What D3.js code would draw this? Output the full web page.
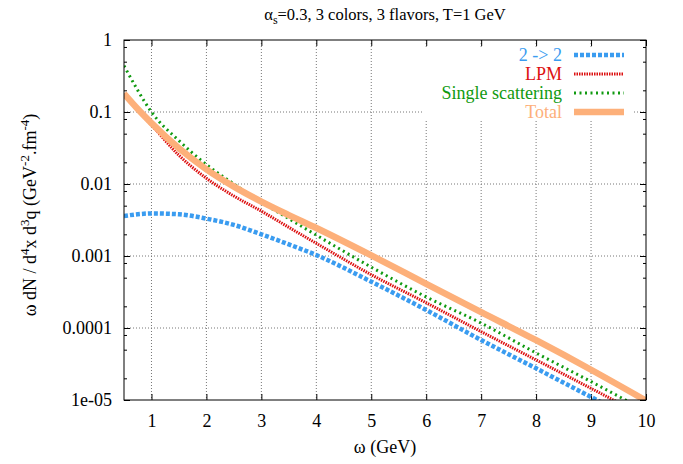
<!DOCTYPE html>
<html>
<head>
<meta charset="utf-8">
<script src="https://d3js.org/d3.v7.min.js"></script>
<style>
  body { margin: 0; background: #fff; }
</style>
</head>
<body>
<div id="my_dataviz"></div>
<script>
// data
var omega      = [0.5, 0.75, 1, 1.5, 2, 2.5, 3, 3.5, 4, 5, 6, 7, 8, 9, 10];
var twoToTwo   = [0.0036, 0.0038, 0.0039, 0.0038, 0.0033, 0.0027, 0.0020, 0.00145, 0.00103, 0.00044, 0.000178, 0.000068, 0.0000275, 0.0000110, 0.0000044];
var lpm        = [0.176, 0.106, 0.066, 0.025, 0.012, 0.0068, 0.0042, 0.0025, 0.0015, 0.00055, 0.000224, 0.000089, 0.000036, 0.0000145, 0.0000058];
var single     = [0.44, 0.2, 0.1, 0.040, 0.0186, 0.0100, 0.0056, 0.0033, 0.00195, 0.0007, 0.00027, 0.000117, 0.000045, 0.000018, 0.000007];
var total      = [0.18, 0.11, 0.07, 0.0313, 0.016, 0.0092, 0.0057, 0.0037, 0.00245, 0.00102, 0.00041, 0.000166, 0.0000676, 0.0000263, 0.0000098];
var xTicks     = [1, 2, 3, 4, 5, 6, 7, 8, 9, 10];
var yTicks     = [1, 0.1, 0.01, 0.001, 0.0001, 0.00001];
var yTickLabels = ["1", "0.1", "0.01", "0.001", "0.0001", "1e-05"];

var series = [
  {name: "2 -> 2", values: twoToTwo, color: "#3a9cf0", width: 4.5, dash: "4,2"},
  {name: "LPM", values: lpm, color: "#dd1111", width: 3, dash: "1.5,1"},
  {name: "Single scattering", values: single, color: "#109a10", width: 3, dash: "2,3.5"},
  {name: "Total", values: total, color: "#fdb07a", width: 6.5, dash: null}
];

var FONT = "'Liberation Serif', 'Times New Roman', Times, 'DejaVu Serif', serif";

// dimensions of the graph
var W = 683, H = 464;
var margin = {top: 40, right: 37, bottom: 64, left: 124},
    width = W - margin.left - margin.right,
    height = H - margin.top - margin.bottom;

var root = d3.select("#my_dataviz")
  .append("svg")
    .attr("width", W)
    .attr("height", H)
    .style("font-family", FONT);

var svg = root.append("g")
    .attr("transform", "translate(" + margin.left + "," + margin.top + ")");

var x = d3.scaleLinear().domain([0.5, 10]).range([0, width]);
var y = d3.scaleLog().domain([1e-5, 1]).range([height, 0]);

// grid
svg.append("g").selectAll("line").data(xTicks.slice(0, -1))
  .enter().append("line")
    .attr("x1", function(d) { return x(d); }).attr("x2", function(d) { return x(d); })
    .attr("y1", 0).attr("y2", height)
    .attr("stroke", "#777").attr("stroke-dasharray", "1,2");
svg.append("g").selectAll("line").data(yTicks.slice(1, -1))
  .enter().append("line")
    .attr("x1", 0).attr("x2", width)
    .attr("y1", function(d) { return y(d); }).attr("y2", function(d) { return y(d); })
    .attr("stroke", "#777").attr("stroke-dasharray", "1,2");

// minor ticks on the log axis (2, 5, 8 of each decade)
var minor = [];
yTicks.slice(1).forEach(function(d) { [2, 5, 8].forEach(function(m) { minor.push(d * m); }); });

// axes: ticks pointing inwards, mirrored
svg.append("g").attr("transform", "translate(0," + height + ")")
  .call(d3.axisBottom(x).tickValues(xTicks).tickSizeInner(-6).tickSizeOuter(0).tickPadding(14).tickFormat(d3.format("d")));
svg.append("g")
  .call(d3.axisTop(x).tickValues(xTicks).tickSizeInner(-6).tickSizeOuter(0).tickFormat(""));
svg.append("g")
  .call(d3.axisLeft(y).tickValues(yTicks).tickSizeInner(-6).tickSizeOuter(0).tickPadding(12)
    .tickFormat(function(d, i) { return yTickLabels[i]; }));
svg.append("g").attr("transform", "translate(" + width + ",0)")
  .call(d3.axisRight(y).tickValues(yTicks).tickSizeInner(-6).tickSizeOuter(0).tickFormat(""));
svg.append("g")
  .call(d3.axisLeft(y).tickValues(minor).tickSizeInner(-3).tickSizeOuter(0).tickFormat(""));
svg.append("g").attr("transform", "translate(" + width + ",0)")
  .call(d3.axisRight(y).tickValues(minor).tickSizeInner(-3).tickSizeOuter(0).tickFormat(""));

svg.selectAll(".domain").remove();
svg.selectAll("g").attr("font-family", null);
svg.selectAll(".tick text").style("font-size", "18px").style("font-family", FONT).attr("fill", "#000");

// clip the curves to the plot area
svg.append("clipPath").attr("id", "clip")
  .append("rect").attr("width", width).attr("height", height);

var line = d3.line()
  .x(function(d) { return x(d[0]); })
  .y(function(d) { return y(d[1]); })
  .curve(d3.curveMonotoneX);

var curves = svg.append("g").attr("clip-path", "url(#clip)");
series.forEach(function(s) {
  curves.append("path")
    .datum(omega.map(function(o, i) { return [o, s.values[i]]; }))
    .attr("d", line)
    .attr("fill", "none")
    .attr("stroke", s.color)
    .attr("stroke-width", s.width)
    .attr("stroke-dasharray", s.dash);
});

// legend with opaque background
var legend = svg.append("g");
legend.append("rect")
  .attr("x", 300).attr("y", 8).attr("width", 210).attr("height", 73)
  .attr("fill", "#fff");
series.forEach(function(s, i) {
  var yy = 15 + i * 19;
  legend.append("text")
    .attr("x", 438).attr("y", yy + 6)
    .attr("text-anchor", "end")
    .style("font-size", "18px")
    .style("font-family", FONT)
    .attr("fill", s.color)
    .text(s.name);
  legend.append("line")
    .attr("x1", 450).attr("x2", 500)
    .attr("y1", yy).attr("y2", yy)
    .attr("stroke", s.color)
    .attr("stroke-width", s.width)
    .attr("stroke-dasharray", s.dash);
});

// border
svg.append("rect")
  .attr("width", width).attr("height", height)
  .attr("fill", "none").attr("stroke", "#000").attr("stroke-width", 1);

// title
var title = root.append("text")
  .attr("x", margin.left + width / 2).attr("y", 20)
  .attr("text-anchor", "middle")
  .style("font-family", FONT)
  .style("font-size", "16.5px");
title.append("tspan").text("\u03b1");
title.append("tspan").attr("baseline-shift", "-30%").style("font-size", "12px").text("s");
title.append("tspan").attr("baseline-shift", "0%").text("=0.3, 3 colors, 3 flavors, T=1 GeV");

// x label
root.append("text")
  .attr("x", margin.left + width / 2).attr("y", 453)
  .attr("text-anchor", "middle")
  .style("font-family", FONT)
  .style("font-size", "18px")
  .text("\u03c9 (GeV)");

// y label
var ylab = root.append("text")
  .attr("transform", "translate(36,215) rotate(-90)")
  .attr("text-anchor", "middle")
  .style("font-family", FONT)
  .style("font-size", "18px");
ylab.append("tspan").text("\u03c9 dN / d");
ylab.append("tspan").attr("baseline-shift", "super").style("font-size", "13px").text("4");
ylab.append("tspan").text("x d");
ylab.append("tspan").attr("baseline-shift", "super").style("font-size", "13px").text("3");
ylab.append("tspan").text("q (GeV");
ylab.append("tspan").attr("baseline-shift", "super").style("font-size", "13px").text("-2");
ylab.append("tspan").text(".fm");
ylab.append("tspan").attr("baseline-shift", "super").style("font-size", "13px").text("-4");
ylab.append("tspan").text(")");
</script>
</body>
</html>
